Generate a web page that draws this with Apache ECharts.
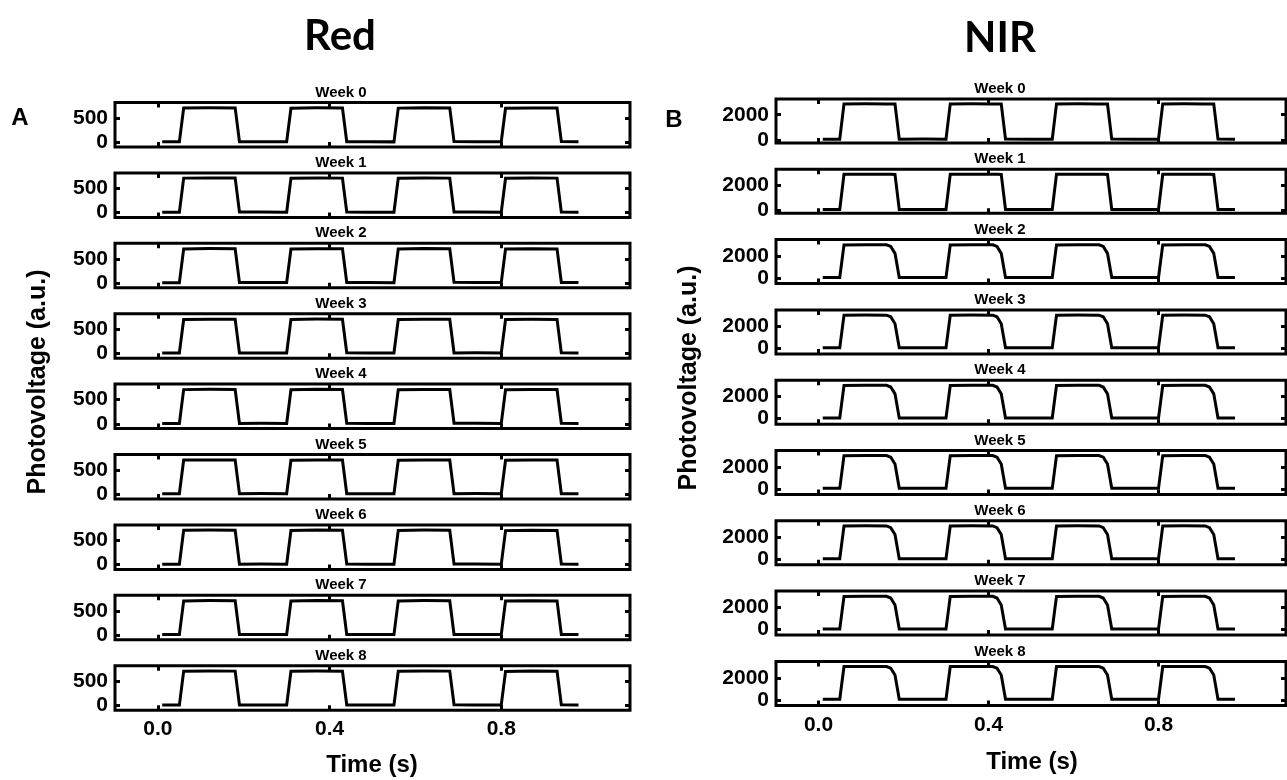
<!DOCTYPE html>
<html>
<head>
<meta charset="utf-8">
<script src="https://cdn.jsdelivr.net/npm/echarts@6/dist/echarts.min.js"></script>
<style>
  html, body { margin: 0; padding: 0; background: #fff; }
  #main { width: 1287px; height: 780px; }
</style>
</head>
<body>
<div id="main"></div>
<script>
// Panel rows
const weeks = ['Week 0', 'Week 1', 'Week 2', 'Week 3', 'Week 4', 'Week 5', 'Week 6', 'Week 7', 'Week 8'];

// Tick labels
const timeTicks = [0, 0.4, 0.8];
const redTicks = [0, 500];
const nirTicks = [0, 2000];

// Red channel: sample times (s) at the pulse edges and plateaus
const redTime = [0.01, 0.05, 0.06, 0.12, 0.18, 0.19, 0.24, 0.30, 0.31, 0.37, 0.43, 0.44, 0.49,
                 0.55, 0.56, 0.62, 0.68, 0.69, 0.74, 0.80, 0.81, 0.87, 0.93, 0.94, 0.98];
const red0 = [6, 6, 706, 712, 708, 8, 10, 8, 702, 710, 707, 10, 8, 6, 704, 712, 708, 12, 10, 8, 700, 708, 706, 12, 8];
const red1 = [8, 8, 712, 716, 714, 10, 12, 8, 708, 714, 712, 12, 8, 8, 710, 716, 712, 10, 12, 8, 708, 714, 712, 10, 8];
const red2 = [6, 6, 704, 710, 706, 8, 12, 8, 700, 708, 706, 10, 10, 6, 702, 710, 706, 12, 8, 8, 700, 708, 704, 10, 8];
const red3 = [8, 8, 700, 706, 704, 10, 10, 8, 702, 708, 704, 12, 8, 8, 700, 706, 704, 10, 12, 8, 700, 706, 702, 10, 8];
const red4 = [6, 6, 706, 712, 708, 8, 10, 8, 704, 712, 708, 10, 8, 6, 704, 710, 706, 12, 10, 8, 702, 710, 706, 12, 8];
const red5 = [8, 8, 704, 708, 706, 10, 12, 8, 702, 708, 706, 10, 10, 8, 702, 708, 704, 10, 12, 8, 700, 706, 704, 10, 8];
const red6 = [6, 6, 708, 714, 710, 8, 10, 8, 704, 712, 708, 12, 8, 6, 706, 712, 708, 10, 10, 8, 702, 710, 706, 12, 8];
const red7 = [8, 8, 704, 710, 706, 10, 12, 8, 702, 710, 706, 10, 8, 8, 704, 710, 706, 12, 10, 8, 700, 708, 704, 10, 8];
const red8 = [6, 6, 706, 712, 708, 8, 10, 8, 704, 710, 706, 10, 10, 6, 704, 712, 708, 12, 8, 8, 702, 710, 706, 12, 8];

// NIR channel: sample times (s), including the roll-off before each fall
const nirTime = [0.01, 0.05, 0.06, 0.11, 0.16, 0.17, 0.18, 0.19, 0.25,
                 0.30, 0.31, 0.36, 0.41, 0.42, 0.43, 0.44, 0.50,
                 0.55, 0.56, 0.61, 0.66, 0.67, 0.68, 0.69, 0.75,
                 0.80, 0.81, 0.86, 0.91, 0.92, 0.93, 0.94, 0.98];
const nir0 = [50, 50, 2860, 2870, 2860, 2860, 2850, 50, 60, 50, 2860, 2870, 2860, 2860, 2850, 60, 50,
              50, 2860, 2870, 2860, 2860, 2850, 60, 50, 50, 2860, 2870, 2860, 2860, 2850, 60, 50];
const nir1 = [60, 60, 2850, 2860, 2860, 2855, 2845, 60, 60, 60, 2855, 2865, 2860, 2855, 2845, 60, 60,
              60, 2855, 2865, 2860, 2855, 2845, 60, 60, 60, 2850, 2860, 2855, 2850, 2840, 60, 60];
const nir2 = [60, 60, 3020, 3040, 3030, 2880, 2250, 60, 60, 60, 3020, 3040, 3030, 2880, 2250, 60, 60,
              60, 3020, 3040, 3030, 2880, 2250, 60, 60, 60, 3020, 3040, 3030, 2880, 2250, 60, 60];
const nir3 = [60, 60, 3010, 3030, 3020, 2870, 2240, 60, 60, 60, 3010, 3030, 3020, 2870, 2240, 60, 60,
              60, 3010, 3030, 3020, 2870, 2240, 60, 60, 60, 3010, 3030, 3020, 2870, 2240, 60, 60];
const nir4 = [60, 60, 3020, 3040, 3030, 2880, 2260, 60, 60, 60, 3020, 3040, 3030, 2880, 2260, 60, 60,
              60, 3020, 3040, 3030, 2880, 2260, 60, 60, 60, 3020, 3040, 3030, 2880, 2260, 60, 60];
const nir5 = [60, 60, 3030, 3050, 3040, 2890, 2270, 60, 60, 60, 3030, 3050, 3040, 2890, 2270, 60, 60,
              60, 3030, 3050, 3040, 2890, 2270, 60, 60, 60, 3030, 3050, 3040, 2890, 2270, 60, 60];
const nir6 = [60, 60, 3020, 3040, 3030, 2880, 2250, 60, 60, 60, 3020, 3040, 3030, 2880, 2250, 60, 60,
              60, 3020, 3040, 3030, 2880, 2250, 60, 60, 60, 3020, 3040, 3030, 2880, 2250, 60, 60];
const nir7 = [60, 60, 3020, 3030, 3030, 2870, 2240, 60, 60, 60, 3020, 3030, 3030, 2870, 2240, 60, 60,
              60, 3020, 3030, 3030, 2870, 2240, 60, 60, 60, 3020, 3030, 3030, 2870, 2240, 60, 60];
const nir8 = [60, 60, 3030, 3040, 3030, 2880, 2260, 60, 60, 60, 3030, 3040, 3030, 2880, 2260, 60, 60,
              60, 3030, 3040, 3030, 2880, 2260, 60, 60, 60, 3030, 3040, 3030, 2880, 2260, 60, 60];

const redRows = [red0, red1, red2, red3, red4, red5, red6, red7, red8];
const nirRows = [nir0, nir1, nir2, nir3, nir4, nir5, nir6, nir7, nir8];

const FONT = "'Liberation Sans', Arial, sans-serif";
const BLACK = '#000';

const grids = [], xAxes = [], yAxes = [], series = [], graphics = [];

function tickStyle(values) {
  return { show: true, inside: true, length: 5, customValues: values, lineStyle: { color: BLACK, width: 3 } };
}
// axis lines are hidden (the grid border draws the frame) and pinned to the frame edges
const hiddenLine = { show: false, onZero: false };

function addPanel(p) {
  weeks.forEach((name, i) => {
    const gi = grids.length;
    const top = p.top0 + i * p.step;
    const yr = p.yRange(i);
    grids.push({
      left: p.left, top: top, width: p.width, height: p.height,
      show: true, borderColor: BLACK, borderWidth: 3, backgroundColor: 'transparent',
      outerBoundsMode: 'none', containLabel: false
    });
    const last = i === weeks.length - 1;
    // bottom x axis (labels on the last row only) and mirrored top axis
    xAxes.push({
      type: 'value', gridIndex: gi, min: -0.1, max: 1.1, position: 'bottom',
      axisLine: hiddenLine, splitLine: { show: false },
      axisTick: tickStyle(timeTicks),
      axisLabel: {
        show: last, customValues: timeTicks, formatter: v => v.toFixed(1),
        color: BLACK, fontFamily: FONT, fontWeight: 'bold', fontSize: 21, margin: 9
      }
    });
    xAxes.push({
      type: 'value', gridIndex: gi, min: -0.1, max: 1.1, position: 'top',
      axisLine: hiddenLine, splitLine: { show: false },
      axisTick: tickStyle(timeTicks),
      axisLabel: { show: false }
    });
    yAxes.push({
      type: 'value', gridIndex: gi, min: yr[0], max: yr[1], position: 'left',
      axisLine: hiddenLine, splitLine: { show: false },
      axisTick: tickStyle(p.ticks),
      axisLabel: {
        customValues: p.ticks, formatter: v => String(v), color: BLACK, fontFamily: FONT,
        fontWeight: 'bold', fontSize: 21, margin: 7
      }
    });
    yAxes.push({
      type: 'value', gridIndex: gi, min: yr[0], max: yr[1], position: 'right',
      axisLine: hiddenLine, splitLine: { show: false },
      axisTick: tickStyle(p.ticks),
      axisLabel: { show: false }
    });
    const vals = p.rows[i];
    series.push({
      type: 'line', name: p.label + ' ' + name,
      xAxisIndex: gi * 2, yAxisIndex: gi * 2,
      data: p.time.map((t, k) => [t, vals[k]]),
      showSymbol: false, symbol: 'none', silent: true,
      lineStyle: { color: BLACK, width: 3, join: 'miter' },
      animation: false, z: 3
    });
    graphics.push({
      type: 'text', x: p.titleX, y: top - 10,
      style: { text: name, fill: BLACK, font: 'bold 15px ' + FONT, align: 'center', verticalAlign: 'middle' }
    });
  });
}

addPanel({
  label: 'Red', left: 115, width: 515, top0: 102.5, step: 70.4, height: 44.5,
  yRange: () => [-100, 820], ticks: redTicks, time: redTime, rows: redRows, titleX: 341
});
addPanel({
  label: 'NIR', left: 776, width: 510, top0: 99, step: 70.3, height: 44,
  yRange: i => (i < 2 ? [-250, 3250] : [-500, 3500]), ticks: nirTicks, time: nirTime, rows: nirRows, titleX: 1000
});

// Panel headings, letters and axis names
graphics.push(
  { type: 'text', x: 340, y: 36, style: { text: 'Red', fill: BLACK, font: "bold 42px Lato, 'Open Sans', sans-serif", align: 'center', verticalAlign: 'middle' } },
  { type: 'text', x: 1000, y: 38, style: { text: 'NIR', fill: BLACK, font: "bold 42px Lato, 'Open Sans', sans-serif", align: 'center', verticalAlign: 'middle' } },
  { type: 'text', x: 20, y: 118, style: { text: 'A', fill: BLACK, font: 'bold 24px ' + FONT, align: 'center', verticalAlign: 'middle' } },
  { type: 'text', x: 674, y: 120, style: { text: 'B', fill: BLACK, font: 'bold 24px ' + FONT, align: 'center', verticalAlign: 'middle' } },
  { type: 'text', x: 38, y: 382, rotation: Math.PI / 2, style: { text: 'Photovoltage (a.u.)', fill: BLACK, font: 'bold 25px ' + FONT, align: 'center', verticalAlign: 'middle' } },
  { type: 'text', x: 689, y: 378, rotation: Math.PI / 2, style: { text: 'Photovoltage (a.u.)', fill: BLACK, font: 'bold 25px ' + FONT, align: 'center', verticalAlign: 'middle' } },
  { type: 'text', x: 372, y: 765, style: { text: 'Time (s)', fill: BLACK, font: 'bold 24px ' + FONT, align: 'center', verticalAlign: 'middle' } },
  { type: 'text', x: 1032, y: 762, style: { text: 'Time (s)', fill: BLACK, font: 'bold 24px ' + FONT, align: 'center', verticalAlign: 'middle' } }
);

const chart = echarts.init(document.getElementById('main'), null, { renderer: 'canvas' });
chart.setOption({
  backgroundColor: '#fff',
  animation: false,
  grid: grids,
  xAxis: xAxes,
  yAxis: yAxes,
  series: series,
  graphic: graphics
});
</script>
</body>
</html>
